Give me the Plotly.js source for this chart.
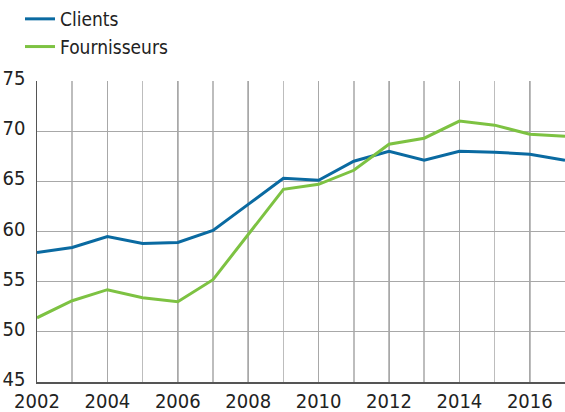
<!DOCTYPE html>
<html>
<head>
<meta charset="utf-8">
<script src="https://cdn.plot.ly/plotly-3.0.1.min.js"></script>
<style>
html,body{margin:0;padding:0;background:#fff;}
#chart{width:565px;height:412px;}
#chart text{font-stretch:condensed;}
</style>
</head>
<body>
<div id="chart"></div>
<script>
const years = [2002,2003,2004,2005,2006,2007,2008,2009,2010,2011,2012,2013,2014,2015,2016,2017];
const clients = [57.9,58.4,59.5,58.8,58.9,60.1,62.7,65.3,65.1,67.0,68.0,67.1,68.0,67.9,67.7,67.1];
const fournisseurs = [51.4,53.1,54.2,53.4,53.0,55.2,59.7,64.2,64.7,66.1,68.7,69.3,71.0,70.6,69.7,69.5];
const seriesNames = ["Clients","Fournisseurs"];
const xTicks = [2002,2004,2006,2008,2010,2012,2014,2016];
const yTicks = [45,50,55,60,65,70,75];

const FONT = "'DejaVu Sans Condensed', 'DejaVu Sans', sans-serif";

const traces = [
  {x: years, y: clients, name: seriesNames[0], type: 'scatter', mode: 'lines',
   line: {color: '#0a6aa1', width: 3}},
  {x: years, y: fournisseurs, name: seriesNames[1], type: 'scatter', mode: 'lines',
   line: {color: '#7dc242', width: 3}}
];

const layout = {
  width: 565, height: 412,
  margin: {l: 37, r: 0, t: 81, b: 30, pad: 0},
  paper_bgcolor: '#fff', plot_bgcolor: '#fff',
  font: {family: FONT, size: 20, color: '#222'},
  showlegend: true,
  legend: {x: (20 - 37) / 528, xref: 'paper', xanchor: 'left', y: 1, yref: 'container', yanchor: 'top',
           bgcolor: 'rgba(0,0,0,0)', font: {family: FONT, size: 19, color: '#222'},
           tracegroupgap: 0, itemwidth: 30},
  xaxis: {range: [2002, 2017], tickvals: xTicks, ticktext: xTicks.map(String),
          showgrid: true, gridcolor: '#a8a8a8', gridwidth: 1,
          minor: {dtick: 1, showgrid: true, gridcolor: '#bdbdbd', gridwidth: 1.5},
          showline: true, linecolor: '#555', linewidth: 1.5, zeroline: false,
          ticks: '', ticklabelstandoff: 0, fixedrange: true},
  yaxis: {range: [45, 75], tickvals: yTicks, ticktext: yTicks.map(String),
          showgrid: true, gridcolor: '#a8a8a8', gridwidth: 1,
          showline: true, linecolor: '#555', linewidth: 1.5, zeroline: false,
          ticks: '', ticklabelstandoff: 6, ticklabelshift: -3, fixedrange: true}
};

Plotly.newPlot('chart', traces, layout, {displayModeBar: false, staticPlot: true});
</script>
</body>
</html>
